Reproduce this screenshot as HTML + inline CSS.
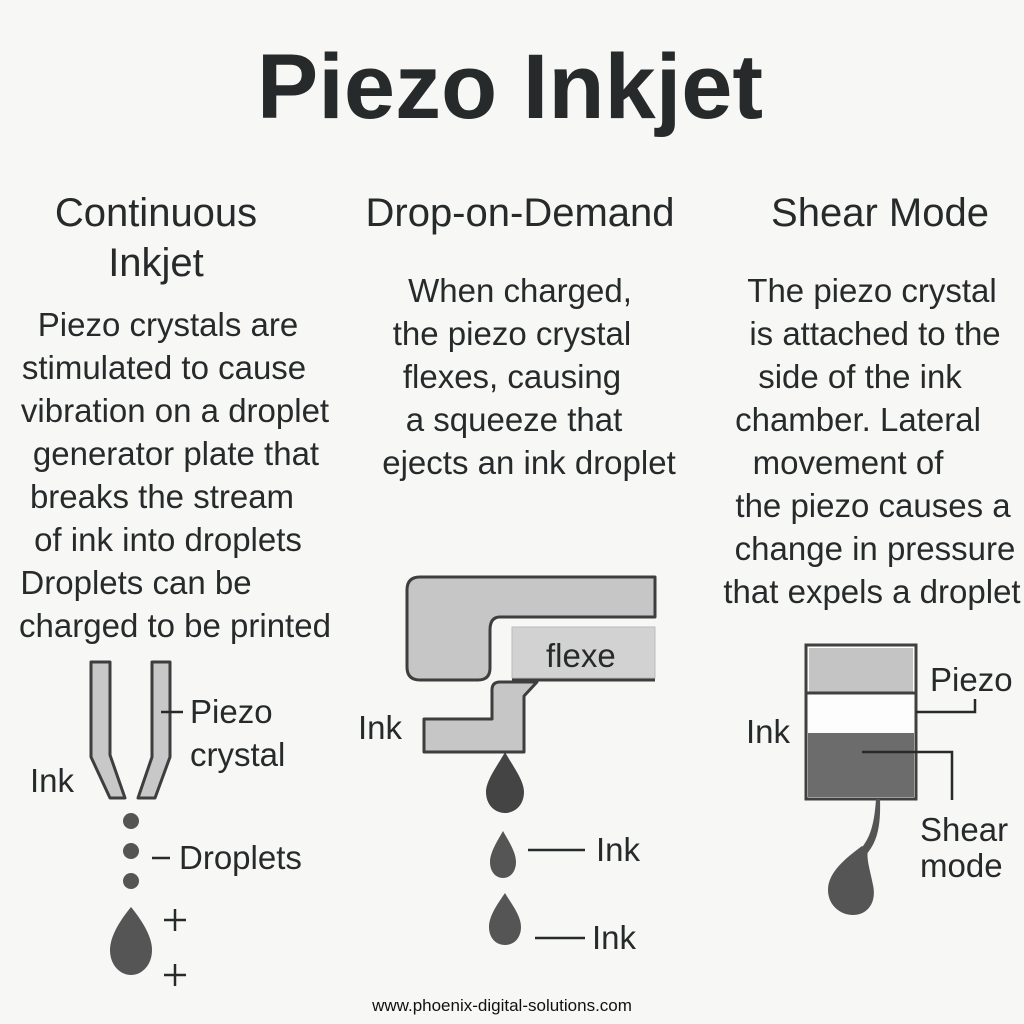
<!DOCTYPE html>
<html><head><meta charset="utf-8"><style>
html,body{margin:0;padding:0;background:#f7f7f6;}
svg{display:block}
text{font-family:"Liberation Sans","DejaVu Sans",sans-serif;fill:#262a2a}
</style></head><body>
<svg width="1024" height="1024" viewBox="0 0 1024 1024">
<rect width="1024" height="1024" fill="#f7f7f6"/>
<text x="510" y="118" font-size="92" font-weight="bold" text-anchor="middle">Piezo Inkjet</text>
<g font-size="40" text-anchor="middle">
<text x="156" y="226">Continuous</text><text x="156" y="276">Inkjet</text>
<text x="520" y="226">Drop-on-Demand</text>
<text x="880" y="226">Shear Mode</text>
</g>
<g font-size="33" text-anchor="middle">
<text x="168" y="336">Piezo crystals are</text>
<text x="164" y="379">stimulated to cause</text>
<text x="175" y="422">vibration on a droplet</text>
<text x="176" y="465">generator plate that</text>
<text x="162" y="508">breaks the stream</text>
<text x="168" y="551">of ink into droplets</text>
<text x="136" y="594">Droplets can be</text>
<text x="175" y="637">charged to be printed</text>
<text x="520" y="302">When charged,</text>
<text x="512" y="345">the piezo crystal</text>
<text x="512" y="388">flexes, causing</text>
<text x="514" y="431">a squeeze that</text>
<text x="529" y="474">ejects an ink droplet</text>
<text x="872" y="302">The piezo crystal</text>
<text x="875" y="345">is attached to the</text>
<text x="860" y="388">side of the ink</text>
<text x="858" y="431">chamber. Lateral</text>
<text x="848" y="474">movement of</text>
<text x="873" y="517">the piezo causes a</text>
<text x="875" y="560">change in pressure</text>
<text x="872" y="603">that expels a droplet</text>
</g>
<!-- diagram 1 -->
<g fill="#c8c8c8" stroke="#3e3e3e" stroke-width="3" stroke-linejoin="round">
<path d="M91 662 L110 662 L110 755 L125 798 L110 798 L91 757 Z"/>
<path d="M152 662 L170 662 L170 757 L155 798 L138 798 L152 757 Z"/>
</g>
<g fill="#555">
<circle cx="131" cy="821" r="8"/><circle cx="131" cy="851" r="8"/><circle cx="131" cy="881" r="8"/>
<path d="M131 907 C140 918 152 935 152 950 C152 965 142 975 131 975 C120 975 110 965 110 950 C110 935 122 918 131 907 Z"/>
</g>
<g stroke="#262a2a" stroke-width="2.5">
<line x1="161" y1="712" x2="183" y2="712"/>
<line x1="152" y1="858" x2="170" y2="858"/>
<line x1="164" y1="920" x2="186" y2="920"/><line x1="175" y1="909" x2="175" y2="931"/>
<line x1="164" y1="975" x2="186" y2="975"/><line x1="175" y1="964" x2="175" y2="986"/>
</g>
<g font-size="33">
<text x="190" y="723">Piezo</text><text x="190" y="766">crystal</text>
<text x="30" y="792">Ink</text><text x="179" y="869">Droplets</text>
</g>
<!-- diagram 2 -->
<g fill="#c6c6c6" stroke="#3e3e3e" stroke-width="3" stroke-linejoin="round">
<path d="M420 577 L655 577 L655 617 L500 617 Q490 617 490 630 L490 668 Q490 680 478 680 L420 680 Q407 680 407 667 L407 590 Q407 577 420 577 Z"/>
<path d="M424 719 L492 719 L492 690 Q492 682 500 682 L537 682 L524 696 L524 752 L424 752 Z"/>
</g>
<line x1="512" y1="680" x2="655" y2="680" stroke="#3e3e3e" stroke-width="3"/>
<rect x="512" y="627" width="143" height="51" fill="#d2d2d2" stroke="#bbb"/>
<text x="546" y="667" font-size="33">flexe</text>
<g fill="#444">
<path d="M505 752 C512 765 524 780 524 792 C524 805 515 813 505 813 C495 813 486 805 486 792 C486 780 498 765 505 752 Z"/>
</g>
<g fill="#555">
<path d="M503 831 C508 840 516 852 516 862 C516 872 510 878 503 878 C496 878 490 872 490 862 C490 852 498 840 503 831 Z"/>
<path d="M505 893 C510 902 521 915 521 927 C521 938 514 945 505 945 C496 945 489 938 489 927 C489 915 499 902 505 893 Z"/>
</g>
<g stroke="#262a2a" stroke-width="2.5"><line x1="528" y1="850" x2="585" y2="850"/><line x1="535" y1="938" x2="585" y2="938"/></g>
<g font-size="33"><text x="596" y="861">Ink</text><text x="592" y="949">Ink</text><text x="358" y="739">Ink</text></g>
<!-- diagram 3 -->
<rect x="806" y="645" width="110" height="154" fill="#fdfdfd" stroke="#404040" stroke-width="3"/>
<rect x="809" y="648" width="104" height="44" fill="#c4c4c4"/>
<line x1="806" y1="693" x2="916" y2="693" stroke="#404040" stroke-width="3"/>
<rect x="808" y="733" width="106" height="64" fill="#6c6c6c"/>
<g stroke="#262a2a" stroke-width="2.5" fill="none">
<path d="M916 712 L975 712 L975 699"/>
<path d="M862 752 L952 752 L952 800"/>
</g>
<path d="M876 799 C874 830 868 840 860 850 L866 855 C876 843 881 830 880 799 Z" fill="#555"/>
<path d="M862 846 C846 858 828 872 828 890 C828 905 840 915 853 915 C867 915 877 903 873 885 C870 870 866 858 868 850 Z" fill="#555"/>
<g font-size="33"><text x="930" y="691">Piezo</text><text x="746" y="743">Ink</text>
<text x="920" y="841">Shear</text><text x="920" y="877">mode</text></g>
<text x="502" y="1011" font-size="17" text-anchor="middle" style="fill:#111">www.phoenix-digital-solutions.com</text>
</svg>
</body></html>
